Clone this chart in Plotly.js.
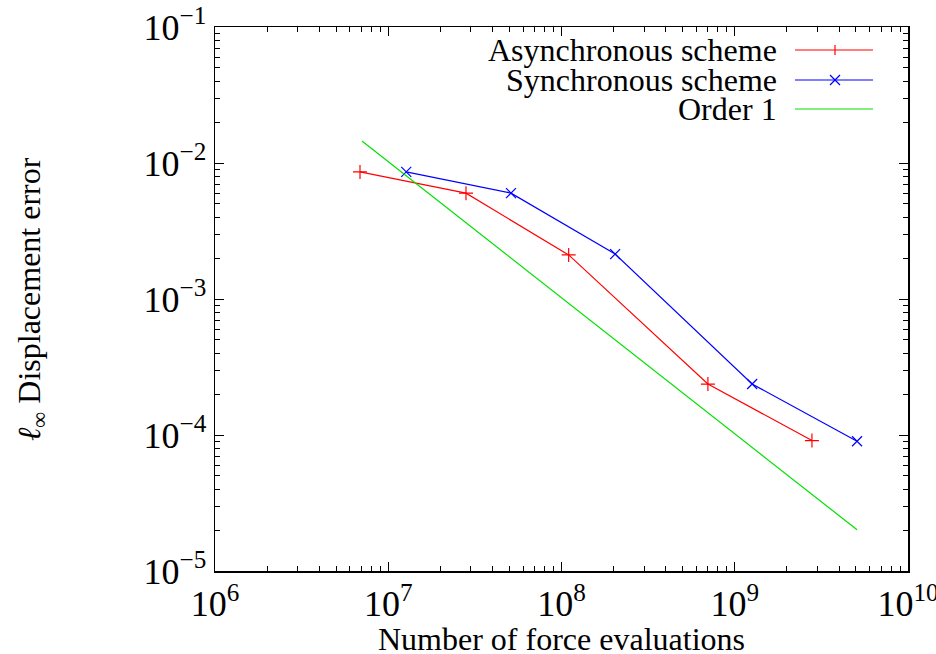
<!DOCTYPE html>
<html>
<head>
<meta charset="utf-8">
<script src="https://cdn.plot.ly/plotly-3.0.1.min.js"></script>
<style>html,body{margin:0;padding:0;background:#fff;}#chart{width:936px;height:654px;}</style>
</head>
<body>
<div id="chart"></div>
<script>
// Data
const asyncEvals = [6.87e6, 2.81e7, 1.10e8, 7.0e8, 2.79e9];
const asyncError = [8.6e-3, 6.0e-3, 2.11e-3, 2.37e-4, 9.1e-5];
const syncEvals  = [1.27e7, 5.11e7, 2.04e8, 1.26e9, 5.08e9];
const syncError  = [8.6e-3, 6.0e-3, 2.14e-3, 2.37e-4, 9.0e-5];
const orderEvals = [7.05e6, 5.08e9];
const orderError = [1.45e-2, 2.01e-5];
const seriesNames = ["Asynchronous scheme", "Synchronous scheme", "Order 1"];
const xTickVals = [1e6, 1e7, 1e8, 1e9, 1e10];
const xTickText = ["10<sup>6</sup>", "10<sup>7</sup>", "10<sup>8</sup>", "10<sup>9</sup>", "10<sup>10</sup>"];
const yTickVals = [1e-5, 1e-4, 1e-3, 1e-2, 1e-1];
const yTickText = ["10<sup>−5</sup>", "10<sup>−4</sup>", "10<sup>−3</sup>", "10<sup>−2</sup>", "10<sup>−1</sup>"];
const xTitle = "Number of force evaluations";
const yTitle = "<i>ℓ</i><sub>∞</sub> Displacement error";

// minor tick positions (2..9 within each decade)
function minorTicks(decades) {
  const out = [];
  for (let i = 0; i < decades.length - 1; i++)
    for (let m = 2; m <= 9; m++) out.push(m * decades[i]);
  return out;
}

const FONT = "Liberation Serif, DejaVu Serif, serif";
const FS = 32;
const colors = ["#ff0000", "#0000ff", "#00e000"];

const traces = [
  {x: asyncEvals, y: asyncError, name: seriesNames[0], mode: "lines+markers",
   line: {color: colors[0], width: 1.2},
   marker: {symbol: "cross-thin", size: 10, line: {color: colors[0], width: 1.2}}},
  {x: syncEvals, y: syncError, name: seriesNames[1], mode: "lines+markers",
   line: {color: colors[1], width: 1.2},
   marker: {symbol: "x-thin", size: 10, line: {color: colors[1], width: 1.2}}},
  {x: orderEvals, y: orderError, name: seriesNames[2], mode: "lines",
   line: {color: colors[2], width: 1.2}}
];

function axis(range, vals, text) {
  return {
    type: "log", range: range, showgrid: false, zeroline: false, automargin: false,
    showline: true, linecolor: "#000", linewidth: 1.5, mirror: "ticks",
    ticks: "inside", ticklen: 9, tickwidth: 1, tickcolor: "#000",
    tickmode: "array", tickvals: vals, ticktext: text,
    ticklabeloverflow: "allow",
    tickfont: {family: FONT, size: 36, color: "#000"},
    minor: {tickmode: "array", tickvals: minorTicks(vals), ticks: "inside", ticklen: 5,
            tickwidth: 1, tickcolor: "#000", showgrid: false}
  };
}

// Legend drawn at the top right, text left of sample (gnuplot style)
const legendRows = [50, 80, 109];
const shapes = [];
const annotations = [];
const lx0 = 795, lx1 = 873, mx = 835, ms = 5;
legendRows.forEach((yy, i) => {
  const yp = 1 - (yy - 27) / 544;
  const x0 = (lx0 - 215) / 693, x1 = (lx1 - 215) / 693;
  shapes.push({type: "line", xref: "paper", yref: "paper", x0: x0, x1: x1, y0: yp, y1: yp,
               line: {color: colors[i], width: 1.2}});
  annotations.push({xref: "paper", yref: "paper", x: (779 - 215) / 693, y: yp,
                    xanchor: "right", yanchor: "middle", showarrow: false,
                    text: seriesNames[i], font: {family: FONT, size: FS, color: "#000"}});
});
// legend markers
{
  const dx = ms / 693, dy = ms / 544;
  const cx = (mx - 215) / 693;
  const y0 = 1 - (legendRows[0] - 27) / 544;
  shapes.push({type: "line", xref: "paper", yref: "paper", x0: cx, x1: cx, y0: y0 - dy, y1: y0 + dy, line: {color: colors[0], width: 1.2}});
  const y1 = 1 - (legendRows[1] - 27) / 544;
  shapes.push({type: "line", xref: "paper", yref: "paper", x0: cx - dx, x1: cx + dx, y0: y1 - dy, y1: y1 + dy, line: {color: colors[1], width: 1.2}});
  shapes.push({type: "line", xref: "paper", yref: "paper", x0: cx - dx, x1: cx + dx, y0: y1 + dy, y1: y1 - dy, line: {color: colors[1], width: 1.2}});
}
// axis titles
annotations.push({xref: "paper", yref: "paper", x: 0.5, y: 1 - (639 - 27) / 544,
                  xanchor: "center", yanchor: "middle", showarrow: false,
                  text: xTitle, font: {family: FONT, size: FS, color: "#000"}});
annotations.push({xref: "paper", yref: "paper", x: (31 - 215) / 693, y: 0.5,
                  xanchor: "center", yanchor: "middle", showarrow: false, textangle: -90,
                  text: yTitle, font: {family: FONT, size: FS, color: "#000"}});

const layout = {
  width: 936, height: 654,
  margin: {l: 215, r: 28, t: 27, b: 83},
  paper_bgcolor: "#fff", plot_bgcolor: "#fff",
  showlegend: false,
  xaxis: axis([6, 10], xTickVals, xTickText),
  yaxis: axis([-5, -1], yTickVals, yTickText),
  shapes: shapes,
  annotations: annotations
};

Plotly.newPlot("chart", traces, layout, {displayModeBar: false, staticPlot: true});
</script>
</body>
</html>
